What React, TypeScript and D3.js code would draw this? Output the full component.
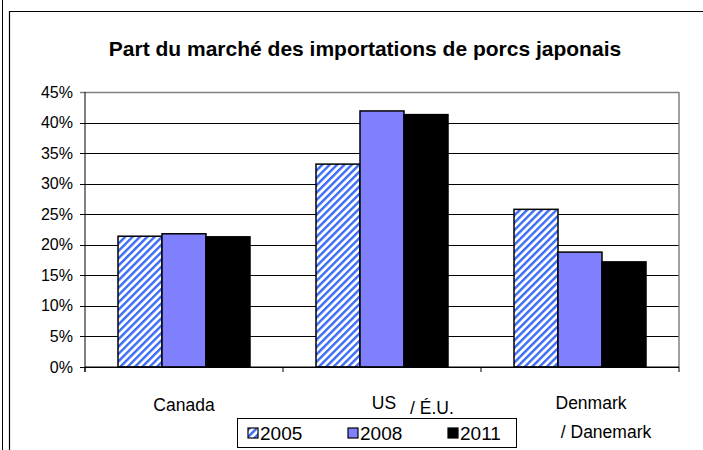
import * as d3 from "d3";

const categories = ["Canada", "US", "Denmark"];
const categoryLines: string[][] = [["Canada"], ["US", "/ É.U."], ["Denmark", "/ Danemark"]];
const years = ["2005", "2008", "2011"];
const values2005 = [21.4, 33.2, 25.8];
const values2008 = [21.8, 41.9, 18.8];
const values2011 = [21.3, 41.3, 17.2];
const yTicks = [0, 5, 10, 15, 20, 25, 30, 35, 40, 45];

const series = [values2005, values2008, values2011];
const fills = ["url(#hatch)", "#8080ff", "#000000"];

const W = 703;
const H = 450;
const plot = { left: 85, right: 679, top: 92, bottom: 367 };
const font = "'Liberation Sans', Arial, sans-serif";

export default function App() {
  // one band per category; bars take 3 of 4.5 bar-widths (gap width 150%)
  const x0 = d3.scaleBand().domain(categories).range([plot.left, plot.right]).padding(0);
  const slot = x0.bandwidth();
  const barW = slot / 4.5;
  const barStart = (c: string) => (x0(c) ?? 0) + barW * 0.75;
  const y = d3.scaleLinear().domain([0, 45]).range([plot.bottom, plot.top]);

  return (
    <svg
      width={W}
      height={H}
      style={{ position: "absolute", left: 0, top: 0, background: "#fff" }}
      fontFamily={font}
    >
      <defs>
        <pattern id="hatch" patternUnits="userSpaceOnUse" width={5.2} height={5.2} patternTransform="rotate(45)">
          <rect width={5.2} height={5.2} fill="#ffffff" />
          <rect width={2.4} height={5.2} fill="#3b6cf5" />
        </pattern>
      </defs>
      <rect x={0} y={0} width={W} height={H} fill="#fff" />
      {/* outer frame */}
      <line x1={2.5} x2={2.5} y1={0} y2={H} stroke="#000" strokeWidth={1} />
      <path d={`M9.5,${H} V11.5 H${W}`} fill="none" stroke="#000" strokeWidth={1.2} />

      <text x={365} y={56} textAnchor="middle" fontSize={21} fontWeight="bold" fill="#000">
        Part du marché des importations de porcs japonais
      </text>

      {/* gridlines */}
      {yTicks.map((t) => (
        <g key={t}>
          <line
            x1={plot.left - 5}
            x2={plot.right}
            y1={Math.round(y(t)) + 0.5}
            y2={Math.round(y(t)) + 0.5}
            stroke={t === 45 ? "#808080" : "#000"}
            strokeWidth={t === 45 ? 1.5 : 1}
          />
          <text x={73} y={y(t) + 5.5} textAnchor="end" fontSize={16} fill="#000">
            {t}%
          </text>
        </g>
      ))}
      <line x1={plot.right} x2={plot.right} y1={plot.top} y2={plot.bottom} stroke="#808080" strokeWidth={1.5} />

      {/* bars */}
      {categories.map((c, ci) =>
        series.map((s, si) => (
          <rect
            key={`${c}-${si}`}
            x={barStart(c) + si * barW}
            y={y(s[ci])}
            width={barW}
            height={plot.bottom - y(s[ci])}
            fill={fills[si]}
            stroke="#000"
            strokeWidth={1.5}
          />
        ))
      )}

      {/* axes */}
      <line x1={plot.left} x2={plot.left} y1={plot.top} y2={plot.bottom + 5} stroke="#000" strokeWidth={1} />
      <line x1={plot.left} x2={plot.right} y1={plot.bottom} y2={plot.bottom} stroke="#000" strokeWidth={1} />
      {d3.range(categories.length + 1).map((i) => (
        <line
          key={i}
          x1={plot.left + i * slot}
          x2={plot.left + i * slot}
          y1={plot.bottom}
          y2={plot.bottom + 5}
          stroke="#000"
        />
      ))}

      {/* category labels */}
      <text x={184} y={411} textAnchor="middle" fontSize={17.5} fill="#000">
        {categoryLines[0][0]}
      </text>
      <text x={384} y={409} textAnchor="middle" fontSize={17.5} fill="#000">
        {categoryLines[1][0]}
      </text>
      <text x={432} y={414} textAnchor="middle" fontSize={17.5} fill="#000">
        {categoryLines[1][1]}
      </text>
      <text x={591} y={409} textAnchor="middle" fontSize={17.5} fill="#000">
        {categoryLines[2][0]}
      </text>
      <text x={606} y={438} textAnchor="middle" fontSize={17.5} fill="#000">
        {categoryLines[2][1]}
      </text>

      {/* legend */}
      <rect x={237.5} y={418.5} width={279} height={29} fill="#fff" stroke="#000" strokeWidth={1} />
      {years.map((yr, i) => (
        <g key={yr} transform={`translate(${248 + i * 100},${428})`}>
          <rect x={0} y={0} width={10} height={10} fill={fills[i]} stroke="#000" strokeWidth={1.2} />
          <text x={12} y={11.5} fontSize={19} fill="#000">
            {yr}
          </text>
        </g>
      ))}
    </svg>
  );
}
